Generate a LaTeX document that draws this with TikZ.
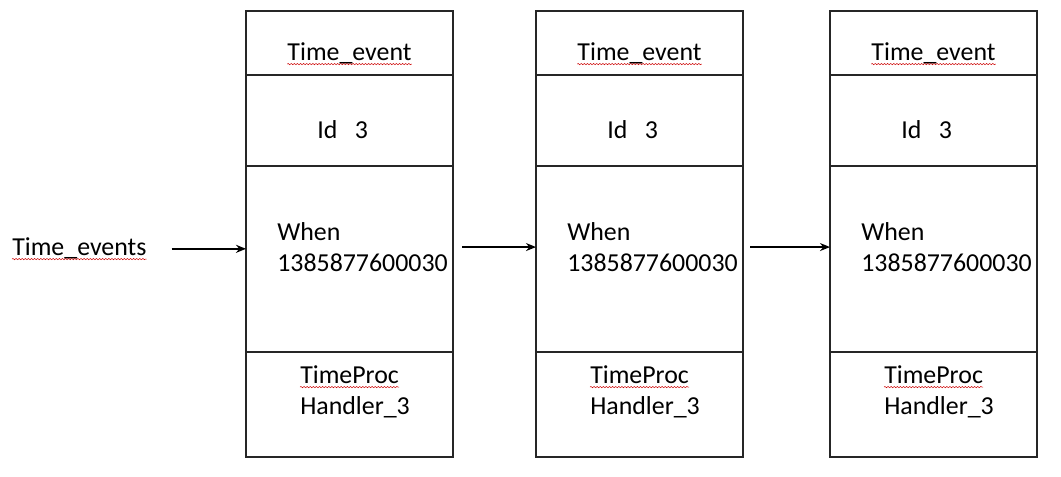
\documentclass[tikz,border=0pt]{standalone}
\usepackage{fontspec}
\setmainfont{Carlito}
\usetikzlibrary{arrows.meta, decorations.pathmorphing}
\usetikzlibrary{positioning}

\begin{document}
\begin{tikzpicture}[
        x=0.025cm, y=-0.025cm,
        every node/.style={font=\fontsize{18.4}{22}\selectfont},
        cell/.style={draw=black!85, line width=1.2pt, minimum width=5.175cm, inner sep=0pt, outer sep=0pt},
        lbl/.style={inner sep=0pt},
        arrow/.style={-{Stealth[length=2.5mm, width=2mm]}, line width=1.4pt},
        squiggle/.style={red!80!black, line width=0.35pt, decorate, decoration={snake, amplitude=0.45pt, segment length=2.2pt}}
    ]
    \useasboundingbox (0,0) rectangle (1061,477);

    % Columns
    \foreach \i/\x in {1/246,2/536,3/830} {
        \node[cell, minimum height=1.6cm, anchor=north west] (head\i) at (\x,11) {};
        \node[cell, minimum height=2.275cm, below=0pt of head\i] (id\i) {};
        \node[cell, minimum height=4.65cm, below=0pt of id\i] (when\i) {};
        \node[cell, minimum height=2.625cm, below=0pt of when\i] (proc\i) {};
        \node[lbl, anchor=base] (tname\i) at (\x+103.5,61) {Time\_event};
        \node[lbl, anchor=base west] (idtxt\i) at (\x+71,139) {Id~~~3};
        \node[lbl, anchor=base west] (whena\i) at (\x+31,241) {When};
        \node[lbl, anchor=base west] (whenb\i) at (\x+31,272) {1385877600030};
        \node[lbl, anchor=base west] (proca\i) at (\x+54,384) {TimeProc};
        \node[lbl, anchor=base west] (procb\i) at (\x+54,415) {Handler\_3};
        \draw[squiggle] ([yshift=-2.2pt]tname\i.base west) -- ([yshift=-2.2pt]tname\i.base east);
        \draw[squiggle] ([yshift=-2.2pt]proca\i.base west) -- ([yshift=-2.2pt]proca\i.base east);
    }
    \node[lbl, anchor=base west] (tevs) at (12,256) {Time\_events};
    \draw[squiggle] ([yshift=-2.2pt]tevs.base west) -- ([yshift=-2.2pt]tevs.base east);

    % Arrows
    \draw[arrow, shorten <=6.25mm] (tevs.east) -- (tevs.east -| when1.west);
    \draw[arrow, shorten <=2.25mm] ([yshift=3mm]when1.east) -- ([yshift=3mm]when2.west);
    \draw[arrow, shorten <=1.75mm] ([yshift=3mm]when2.east) -- ([yshift=3mm]when3.west);

\end{tikzpicture}
\end{document}
